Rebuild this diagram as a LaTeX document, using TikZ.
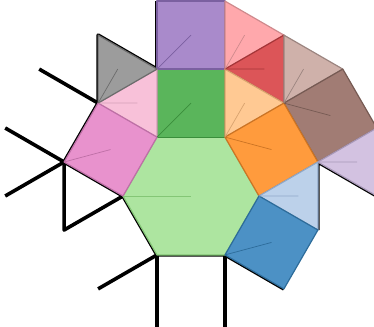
\documentclass[tikz,border=0pt]{standalone}
\usetikzlibrary{calc}
\definecolor{hexF}{HTML}{ADE5A0}\definecolor{hexD}{HTML}{84C676}
\definecolor{grnF}{HTML}{5AB55B}\definecolor{grnD}{HTML}{3A8E3B}
\definecolor{purF}{HTML}{A98ACB}\definecolor{purD}{HTML}{7B60A0}
\definecolor{lpkF}{HTML}{F8C1D9}\definecolor{lpkD}{HTML}{D4A0B8}
\definecolor{gryF}{HTML}{9C9C9C}\definecolor{gryD}{HTML}{6C6C6C}
\definecolor{pnkF}{HTML}{E892CD}\definecolor{pnkD}{HTML}{BE6FA6}
\definecolor{salF}{HTML}{FFA8AC}\definecolor{salD}{HTML}{CF8A8D}
\definecolor{redF}{HTML}{DC5558}\definecolor{redD}{HTML}{A63538}
\definecolor{tanF}{HTML}{CFB1AA}\definecolor{tanD}{HTML}{9C8580}
\definecolor{brnF}{HTML}{A17C74}\definecolor{brnD}{HTML}{765A53}
\definecolor{lavF}{HTML}{D3C2E1}\definecolor{lavD}{HTML}{A898B8}
\definecolor{orgF}{HTML}{FF9B3D}\definecolor{orgD}{HTML}{CC7424}
\definecolor{lorF}{HTML}{FFC993}\definecolor{lorD}{HTML}{D9A36F}
\definecolor{lblF}{HTML}{BCD1EA}\definecolor{lblD}{HTML}{90A8C8}
\definecolor{bluF}{HTML}{4C91C5}\definecolor{bluD}{HTML}{2D6C9A}
\tikzset{
  blk/.style={line width=3.6pt, black, line join=round},
  poly/.style={line width=1.2pt, line join=round},
  ray/.style={line width=0.7pt}
}
\begin{document}
\begin{tikzpicture}[x=1pt,y=-1pt]
\clip (0,0) rectangle (374,326);
% vertices
\coordinate (C) at (191,196);
\coordinate (TL) at (157,137.1);
\coordinate (TR) at (225,137.1);
\coordinate (R) at (259,196);
\coordinate (BR) at (225,254.9);
\coordinate (BL) at (157,254.9);
\coordinate (L) at (123,196);
\coordinate (GU) at (157,69.1);
\coordinate (GV) at (225,69.1);
\coordinate (PU) at (157,1.1);
\coordinate (PV) at (225,1.1);
\coordinate (P1) at (98.1,103.1);
\coordinate (P2) at (64.1,162);
\coordinate (G) at (98.1,35.1);
\coordinate (O1) at (283.9,103.1);
\coordinate (O2) at (317.9,162);
\coordinate (Rd) at (283.9,35.1);
\coordinate (T) at (342.8,69.1);
\coordinate (W) at (376.8,128);
\coordinate (X) at (376.8,196);
\coordinate (B2) at (317.9,230);
\coordinate (B3) at (283.9,288.9);
% free ends
\coordinate (E1) at (39.2,69.1);
\coordinate (E2) at (5.2,128);
\coordinate (E3) at (5.2,196);
\coordinate (E4) at (64.1,230);
\coordinate (E5) at (98.1,288.9);
\coordinate (E6) at (157,332);
\coordinate (E7) at (225,332);
% black edges
\draw[blk] (PU) -- (GU);
\draw[blk] (GU) -- (G) -- (P1);
\draw[blk] (E1) -- (P1) -- (P2) -- (L) -- (BL) -- (BR) -- (B3);
\draw[blk] (E2) -- (P2) -- (E3);
\draw[blk] (P2) -- (E4) -- (L);
\draw[blk] (E5) -- (BL) -- (E6);
\draw[blk] (BR) -- (E7);
\draw[blk] (B2) -- (O2) -- (X);
% polygons
\draw[poly, fill=hexF, draw=hexD] (TL) -- (TR) -- (R) -- (BR) -- (BL) -- (L) -- cycle;
\draw[poly, fill=grnF, draw=grnD] (TL) -- (GU) -- (GV) -- (TR) -- cycle;
\draw[poly, fill=purF, draw=purD] (GU) -- (PU) -- (PV) -- (GV) -- cycle;
\draw[poly, fill=lpkF, draw=lpkD] (TL) -- (GU) -- (P1) -- cycle;
\draw[poly, fill=gryF, draw=gryD] (GU) -- (P1) -- (G) -- cycle;
\draw[poly, fill=pnkF, draw=pnkD] (TL) -- (P1) -- (P2) -- (L) -- cycle;
\draw[poly, fill=salF, draw=salD] (PV) -- (GV) -- (Rd) -- cycle;
\draw[poly, fill=redF, draw=redD] (GV) -- (Rd) -- (O1) -- cycle;
\draw[poly, fill=lorF, draw=lorD] (TR) -- (GV) -- (O1) -- cycle;
\draw[poly, fill=tanF, draw=tanD] (Rd) -- (O1) -- (T) -- cycle;
\draw[poly, fill=brnF, draw=brnD] (O1) -- (T) -- (W) -- (O2) -- cycle;
\draw[poly, fill=orgF, draw=orgD] (TR) -- (O1) -- (O2) -- (R) -- cycle;
\draw[poly, fill=lavF, draw=lavD] (O2) -- (W) -- (X) -- cycle;
\draw[poly, fill=lblF, draw=lblD] (R) -- (O2) -- (B2) -- cycle;
\draw[poly, fill=bluF, draw=bluD] (R) -- (B2) -- (B3) -- (BR) -- cycle;
% orientation rays (vertex to centre)
\draw[ray, hexD] (L) -- (C);
\draw[ray, grnD] (TL) -- ($(TL)!0.5!(GV)$);
\draw[ray, purD] (GU) -- ($(GU)!0.5!(PV)$);
\draw[ray, lpkD] (P1) -- (barycentric cs:TL=1,GU=1,P1=1);
\draw[ray, gryD] (P1) -- (barycentric cs:GU=1,P1=1,G=1);
\draw[ray, pnkD] (P2) -- ($(P2)!0.5!(TL)$);
\draw[ray, salD] (GV) -- (barycentric cs:PV=1,GV=1,Rd=1);
\draw[ray, redD] (GV) -- (barycentric cs:GV=1,Rd=1,O1=1);
\draw[ray, lorD] (TR) -- (barycentric cs:TR=1,GV=1,O1=1);
\draw[ray, tanD] (O1) -- (barycentric cs:Rd=1,O1=1,T=1);
\draw[ray, brnD] (O1) -- ($(O1)!0.5!(W)$);
\draw[ray, orgD] (TR) -- ($(TR)!0.5!(O2)$);
\draw[ray, lavD] (O2) -- (barycentric cs:O2=1,W=1,X=1);
\draw[ray, lblD] (R) -- (barycentric cs:R=1,O2=1,B2=1);
\draw[ray, bluD] (BR) -- ($(BR)!0.5!(B2)$);
\end{tikzpicture}
\end{document}
